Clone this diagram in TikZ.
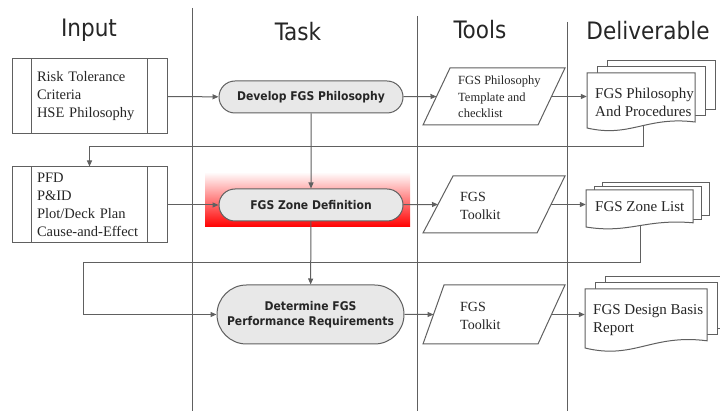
\documentclass[tikz,border=0pt]{standalone}
\usepackage{fontspec}
\setmainfont{Liberation Serif}
\newfontfamily\headfont{DejaVu Sans Condensed}
\usetikzlibrary{arrows.meta,shapes.misc,calc}
\definecolor{linegray}{HTML}{606060}
\definecolor{taskfill}{HTML}{E8E8E8}
\definecolor{txt}{HTML}{262626}

% stack of three documents: name, x1, y1 (top left), x2 (right), yb (bottom left),
% dx, dy (offset of the sheets behind), amp (depth of the wavy bottom)
\newcommand\docstack[8]{%
  \draw[docline] ({#2+2*#6},{#3-2*#7}) rectangle ({#4+2*#6},{#5-0.6*#8-2*#7});
  \draw[docline] ({#2+#6},{#3-#7}) rectangle ({#4+#6},{#5-0.6*#8-#7});
  \draw[docline] (#2,#3) -- (#4,#3) -- (#4,{#5-0.6*#8})
    .. controls ({#2+0.55*(#4-#2)},{#5-1.2*#8}) and ({#2+0.4*(#4-#2)},{#5+#8}) .. (#2,#5) -- cycle;
  \node[inner sep=0pt,minimum width={#4-#2},minimum height={#5-#3}] (#1) at ({(#2+#4)/2},{(#3+#5)/2}) {};%
}

\begin{document}
\begin{tikzpicture}[x=1pt,y=-1pt,
  lane/.style={draw=linegray,line width=1.1pt},
  conn/.style={draw=linegray,line width=1pt},
  arr/.style={conn,-{Triangle[length=6pt,width=5pt]}},
  inbox/.style={draw=linegray,line width=1pt,fill=white,minimum width=155pt,
    minimum height=75pt,inner sep=0pt,text width=105pt,align=left,text=txt,
    font=\fontsize{14.5}{18}\selectfont},
  task/.style={rounded rectangle,draw=linegray,line width=1pt,fill=taskfill,
    minimum width=184pt,minimum height=32pt,inner sep=0pt,align=center,text=txt,
    font=\headfont\fontsize{12}{14.5}\selectfont\bfseries},
  toolline/.style={draw=linegray,line width=1pt,fill=white},
  docline/.style={draw=linegray,line width=1pt,fill=white},
  head/.style={font=\headfont\fontsize{24}{28}\selectfont,text=txt,inner sep=0pt},
  tooltext/.style={anchor=west,align=left,inner sep=0pt,text=txt},
  doctext/.style={anchor=west,align=left,inner sep=0pt,text=txt,
    font=\fontsize{15}{18}\selectfont}]

\useasboundingbox (0,0) rectangle (720,411);
\clip (0,0) rectangle (720,411);
\fill[white] (0,0) rectangle (720,411);

% column headings
\node[head] (hin) at (89,30) {Input};
\node[head] (htask) at (298,32) {Task};
\node[head] (htools) at (480,30) {Tools};
\node[head] (hdel) at (648,31) {Deliverable};

% swimlane separators
\draw[lane] (192.5,8) -- (192.5,411);
\draw[lane] (417.5,16) -- (417.5,411);
\draw[lane] (567.5,22) -- (567.5,411);

% highlight behind the zone definition step
\shade[top color=white,middle color=red!35,bottom color=red] (205,172) rectangle (410,227);

% inputs
\node[inbox] (in1) at (89.5,96.5) {Risk Tolerance\\Criteria\\HSE Philosophy};
\node[inbox,minimum height=76pt] (in2) at (89.5,205) {PFD\\P\&ID\\Plot/Deck Plan\\Cause-and-Effect};
\foreach \b in {in1,in2}{
  \draw[conn] ([xshift=20pt]\b.north west) -- ([xshift=20pt]\b.south west);
  \draw[conn] ([xshift=-20pt]\b.north east) -- ([xshift=-20pt]\b.south east);
}

% tasks
\node[task] (task1) at (311,97) {Develop FGS Philosophy};
\node[task] (task2) at (311,205) {FGS Zone Definition};
\node[task,minimum height=59pt,minimum width=187pt] (task3) at (310.5,314.5)
  {Determine FGS\\Performance Requirements};

% tools
\coordinate (t1bl) at (423,125); \coordinate (t1tl) at (450,68);
\coordinate (t1tr) at (565,68);  \coordinate (t1br) at (538,125);
\draw[toolline] (t1bl) -- (t1tl) -- (t1tr) -- (t1br) -- cycle;
\coordinate (t1in) at ($(t1bl)!0.5!(t1tl)$);
\coordinate (t1out) at ($(t1br)!0.5!(t1tr)$);
\node[tooltext,font=\fontsize{12.5}{16.5}\selectfont] (tool1) at (458,97)
  {FGS Philosophy\\Template and\\checklist};

\coordinate (t2bl) at (423,233); \coordinate (t2tl) at (453,176);
\coordinate (t2tr) at (565,176); \coordinate (t2br) at (537,233);
\draw[toolline] (t2bl) -- (t2tl) -- (t2tr) -- (t2br) -- cycle;
\coordinate (t2in) at ($(t2bl)!0.5!(t2tl)$);
\coordinate (t2out) at ($(t2br)!0.5!(t2tr)$);
\node[tooltext,font=\fontsize{14}{18}\selectfont] (tool2) at (460,206) {FGS\\Toolkit};

\coordinate (t3bl) at (423,344); \coordinate (t3tl) at (444,285);
\coordinate (t3tr) at (565,285); \coordinate (t3br) at (538,344);
\draw[toolline] (t3bl) -- (t3tl) -- (t3tr) -- (t3br) -- cycle;
\coordinate (t3in) at ($(t3bl)!0.5!(t3tl)$);
\coordinate (t3out) at ($(t3br)!0.5!(t3tr)$);
\node[tooltext,font=\fontsize{14}{18}\selectfont] (tool3) at (460,315.5) {FGS\\Toolkit};

% deliverables
\docstack{del1}{587}{73}{695}{128}{10}{6}{10}
\node[doctext] (del1text) at (595,102) {FGS Philosophy\\And Procedures};
\docstack{del2}{586}{190}{693}{227}{8}{3.5}{7}
\node[doctext] (del2text) at (595,207) {FGS Zone List};
\docstack{del3}{585}{289}{707}{348}{10}{6}{12}
\node[doctext] (del3text) at (593,320) {FGS Design Basis\\Report};

% main flow
\draw[arr] (in1) -- (task1);
\draw[arr] (in2) -- (task2);
\draw[arr] (task1) -- (task2);
\draw[arr] (task2) -- (task3);
\draw[arr] (task1) -- (t1in);
\draw[arr] (task2) -- (t2in);
\draw[arr] (task3) -- (t3in);
\draw[arr] (t1out) -- (t1out -| del1.west);
\draw[arr] (t2out) -- (t2out -| del2.west);
\draw[arr] (t3out) -- (t3out -| del3.west);

% feedback from the deliverables
\coordinate (fb1) at (643,125);
\draw[arr] (fb1) |- ([yshift=20pt]in2.north) -- (in2.north);
\coordinate (fb2) at (640,225);
\coordinate (fb2turn) at (83,263);
\draw[arr] (fb2) |- (fb2turn) |- (task3.west);

\end{tikzpicture}
\end{document}
